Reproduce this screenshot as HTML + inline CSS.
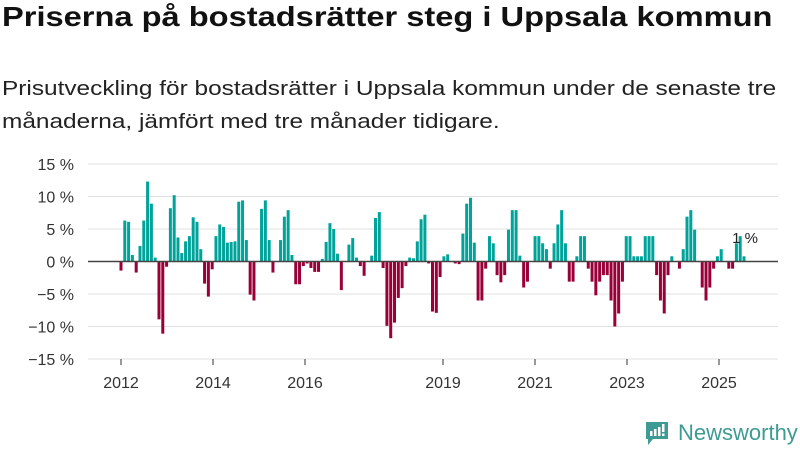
<!DOCTYPE html>
<html><head><meta charset="utf-8"><style>
body{margin:0;width:800px;height:450px;background:#fff;font-family:"Liberation Sans",sans-serif;overflow:hidden;position:relative}
h1{position:absolute;left:2px;top:1px;margin:0;font-size:28px;font-weight:bold;color:#111;white-space:nowrap;transform:scaleX(1.165);transform-origin:0 0}
p{position:absolute;left:2px;top:72px;margin:0;font-size:20.5px;line-height:33px;color:#222;white-space:nowrap;transform:scaleX(1.19);transform-origin:0 0}
svg{position:absolute;left:0;top:0}
</style></head><body>
<h1>Priserna på bostadsrätter steg i Uppsala kommun</h1>
<p>Prisutveckling för bostadsrätter i Uppsala kommun under de senaste tre<br>månaderna, jämfört med tre månader tidigare.</p>
<svg id="chart" width="800" height="450"></svg>
<div style="position:absolute;left:645px;top:420px;height:28px;">
<svg width="24" height="28" style="position:absolute;left:0;top:0"><path d="M1 2h22v17H8l-5 6v-6H1z" fill="#3d9b93"/><rect x="5" y="11" width="2.5" height="5" fill="#fff"/><rect x="9" y="9" width="2.5" height="7" fill="#fff"/><rect x="13" y="7" width="2.5" height="9" fill="#fff"/><rect x="17" y="4" width="2.5" height="8" fill="#fff"/><rect x="17" y="13.5" width="2.5" height="2.5" fill="#fff"/></svg>
<span style="position:absolute;left:33px;top:0px;font-size:22px;color:#3d9b93;white-space:nowrap">Newsworthy</span>
</div>
<script>
const values=[-1.4,6.3,6.1,1.0,-1.7,2.4,6.3,12.3,8.9,0.6,-8.9,-11.1,-0.8,8.2,10.2,3.7,1.3,3.1,3.9,6.8,6.1,1.9,-3.4,-5.4,-1.2,3.9,5.7,5.3,2.9,3.0,3.1,9.2,9.4,3.3,-5.1,-6.0,0,8.1,9.4,3.3,-1.7,
0,3.3,6.9,7.9,1.0,-3.5,-3.5,-0.7,-0.3,-1.0,-1.6,-1.6,0.4,3.0,5.9,5.0,1.2,-4.4,0,2.6,3.6,0.6,-0.7,-2.2,0,0.9,6.7,7.6,-1.0,-9.9,-11.8,-9.4,-5.6,-4.1,-0.7,0.6,0.5,3.1,6.5,7.2,-0.3,
-7.7,-7.9,-2.4,0.8,1.1,0,-0.3,-0.4,4.3,8.9,9.8,2.9,-6.0,-6.0,-1.1,3.9,2.8,-2.1,-3.2,-2.1,4.9,7.9,7.9,0.9,-4.0,-3.1,0,3.9,3.9,2.8,1.9,-1.1,2.8,5.7,7.9,2.8,-3.1,-3.1,0.8,3.9,3.9,-1.1,-3.1,
-5.2,-3.1,-2.1,-2.1,-6.0,-10.0,-8.0,-3.1,3.9,3.9,0.8,0.8,0.8,3.9,3.9,3.9,-2.1,-6.0,-8.0,-2.1,0.8,0,-1.1,1.9,6.9,7.9,4.9,0,-4.0,-6.0,-4.0,-1.1,0.8,1.9,0,-1.1,-1.1,2.8,3.9,0.8];
const yTicks=[15,10,5,0,-5,-10,-15];
const xTickYears=[2012,2014,2016,2019,2021,2023,2025];
const lastLabel="1 %";
const NS="http://www.w3.org/2000/svg";
const svg=document.getElementById('chart');
const y=v=>261.5-v*6.5;
const nBars=values.length;
const x=i=>121+i*(744-121)/(nBars-1);
const xYear=yr=>121+(yr-2012)*46;
function mk(t,a){const e=document.createElementNS(NS,t);for(const k in a)e.setAttribute(k,a[k]);svg.appendChild(e);return e;}
yTicks.forEach(t=>{
 const g=mk('line',{x1:88,x2:778,y1:y(t),y2:y(t),stroke:'#e0e0e0','stroke-width':1});
 
 
 const l=mk('text',{x:74,y:y(t)+6,'text-anchor':'end','font-size':16,fill:'#333','font-family':'Liberation Sans'});
 l.textContent=(t<0?'−'+(-t):t)+' %';
 
 
});
values.forEach((v,i)=>{
 const r=mk('rect',{x:x(i)-1.5,width:3,y:Math.min(y(v),y(0)),height:Math.abs(y(v)-y(0)),fill:v>=0?'#00a39a':'#990038'});
 
 
});
const z=mk('line',{x1:88,x2:778,y1:y(0),y2:y(0),stroke:'#444','stroke-width':1.5});


xTickYears.forEach(yr=>{
 const tk=mk('line',{x1:xYear(yr),x2:xYear(yr),y1:359,y2:365,stroke:'#333'});
 
 
 const l=mk('text',{x:xYear(yr),y:388,'text-anchor':'middle','font-size':16,fill:'#333','font-family':'Liberation Sans'});
 l.textContent=yr;
 
 
});
const ll=mk('text',{x:x(nBars-1)+1,y:y(values[nBars-2])+7,'text-anchor':'middle','font-size':15,fill:'#222','font-family':'Liberation Sans'});
ll.textContent=lastLabel;


</script>
</body></html>
